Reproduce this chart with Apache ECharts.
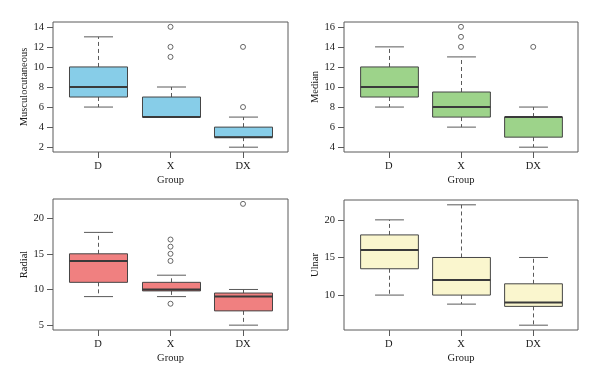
<!DOCTYPE html>
<html>
<head>
<meta charset="utf-8">
<script src="https://cdn.jsdelivr.net/npm/echarts@6/dist/echarts.min.js"></script>
<style>html,body{margin:0;padding:0;background:#fff}#c{width:600px;height:384px}</style>
</head>
<body>
<div id="c"></div>
<script>
// Categories
var groups = ['D', 'X', 'DX'];

// Box stats per group: [lowerWhisker, Q1, median, Q3, upperWhisker]
var muscBoxes = [[6, 7, 8, 10, 13], [5, 5, 5, 7, 8], [2, 3, 3, 4, 5]];
var muscOutliers = [[2, 14], [2, 12], [2, 11], [3, 12], [3, 6]];
var muscTicks = [2, 4, 6, 8, 10, 12, 14];

var medBoxes = [[8, 9, 10, 12, 14], [6, 7, 8, 9.5, 13], [4, 5, 7, 7, 8]];
var medOutliers = [[2, 16], [2, 15], [2, 14], [3, 14]];
var medTicks = [4, 6, 8, 10, 12, 14, 16];

var radBoxes = [[9, 11, 14, 15, 18], [9, 9.8, 10, 11, 12], [5, 7, 9, 9.5, 10]];
var radOutliers = [[2, 17], [2, 16], [2, 15], [2, 14], [2, 8], [3, 22]];
var radTicks = [5, 10, 15, 20];

var ulnBoxes = [[10, 13.5, 16, 18, 20], [8.8, 10, 12, 15, 22], [6, 8.5, 9, 11.5, 15]];
var ulnOutliers = [];
var ulnTicks = [10, 15, 20];

var panels = [
  {name: 'Musculocutaneous', boxes: muscBoxes, out: muscOutliers, ticks: muscTicks, color: '#87CDE8',
   grid: {left: 53, top: 22, width: 235, height: 130}},
  {name: 'Median', boxes: medBoxes, out: medOutliers, ticks: medTicks, color: '#9DD38A',
   grid: {left: 344, top: 22, width: 234, height: 130}},
  {name: 'Radial', boxes: radBoxes, out: radOutliers, ticks: radTicks, color: '#F08080',
   grid: {left: 53, top: 199, width: 235, height: 131}},
  {name: 'Ulnar', boxes: ulnBoxes, out: ulnOutliers, ticks: ulnTicks, color: '#FAF6CE',
   grid: {left: 344, top: 200, width: 234, height: 130}}
];

var FONT = 'Liberation Serif';
var TXT = '#1a1a1a';
var AX = '#5a5a5a';
var grids = [], xAxes = [], yAxes = [], series = [];

panels.forEach(function (p, i) {
  var vals = [];
  p.boxes.forEach(function (b) { vals = vals.concat(b); });
  p.out.forEach(function (o) { vals.push(o[1]); });
  var lo = Math.min.apply(null, vals), hi = Math.max.apply(null, vals);
  var ext = (hi - lo) * 0.04;

  grids.push(Object.assign({show: true, borderColor: AX, borderWidth: 1, backgroundColor: 'transparent'}, p.grid));
  xAxes.push({
    gridIndex: i, type: 'value', min: 0.38, max: 3.62,
    name: 'Group', nameLocation: 'middle', nameGap: 23,
    nameTextStyle: {fontFamily: FONT, fontSize: 10.5, color: TXT},
    axisLine: {show: false},
    splitLine: {show: false},
    axisTick: {show: true, length: 6, lineStyle: {color: AX}, customValues: [1, 2, 3]},
    axisLabel: {fontFamily: FONT, fontSize: 10.5, color: TXT, margin: 9, customValues: [1, 2, 3],
      formatter: function (v) { return groups[Math.round(v) - 1] || ''; }}
  });
  yAxes.push({
    gridIndex: i, type: 'value', min: lo - ext, max: hi + ext,
    name: p.name, nameLocation: 'middle', nameGap: 22,
    nameTextStyle: {fontFamily: FONT, fontSize: 10.5, color: TXT},
    axisLine: {show: false},
    splitLine: {show: false},
    axisTick: {show: true, length: 6, lineStyle: {color: AX}, customValues: p.ticks},
    axisLabel: {fontFamily: FONT, fontSize: 10.5, color: TXT, margin: 9, customValues: p.ticks}
  });

  var data = p.boxes.map(function (b, k) { return [k + 1].concat(b); });
  (function (fill) {
    series.push({
      type: 'custom', xAxisIndex: i, yAxisIndex: i,
      data: data,
      renderItem: function (params, api) {
        var x = api.value(0);
        var lw = api.coord([x, api.value(1)]);
        var q1 = api.coord([x, api.value(2)]);
        var md = api.coord([x, api.value(3)]);
        var q3 = api.coord([x, api.value(4)]);
        var hw = api.coord([x, api.value(5)]);
        var half = api.size([0.4, 0])[0];
        var cap = api.size([0.2, 0])[0];
        var cx = Math.round(lw[0]) + 0.5;
        var stroke = '#454545';
        var children = [
          {type: 'line', shape: {x1: cx, y1: q3[1], x2: cx, y2: hw[1]}, style: {stroke: AX, lineWidth: 1, lineDash: [4, 3]}},
          {type: 'line', shape: {x1: cx, y1: q1[1], x2: cx, y2: lw[1]}, style: {stroke: AX, lineWidth: 1, lineDash: [4, 3]}},
          {type: 'line', shape: {x1: cx - cap, y1: hw[1], x2: cx + cap, y2: hw[1]}, style: {stroke: AX, lineWidth: 1}},
          {type: 'line', shape: {x1: cx - cap, y1: lw[1], x2: cx + cap, y2: lw[1]}, style: {stroke: AX, lineWidth: 1}},
          {type: 'rect', shape: {x: cx - half, y: q3[1], width: 2 * half, height: q1[1] - q3[1]}, style: {fill: fill, stroke: stroke, lineWidth: 1}},
          {type: 'line', shape: {x1: cx - half, y1: md[1], x2: cx + half, y2: md[1]}, style: {stroke: '#3a3a3a', lineWidth: 2}}
        ];
        return {type: 'group', children: children};
      }
    });
  })(p.color);
  series.push({
    type: 'scatter', xAxisIndex: i, yAxisIndex: i,
    data: p.out, symbol: 'circle', symbolSize: 5,
    itemStyle: {color: '#fff', borderColor: '#444', borderWidth: 1}
  });
});

var chart = echarts.init(document.getElementById('c'), null, {renderer: 'canvas'});
chart.setOption({
  animation: false,
  backgroundColor: '#fff',
  grid: grids, xAxis: xAxes, yAxis: yAxes, series: series
});
</script>
</body>
</html>
